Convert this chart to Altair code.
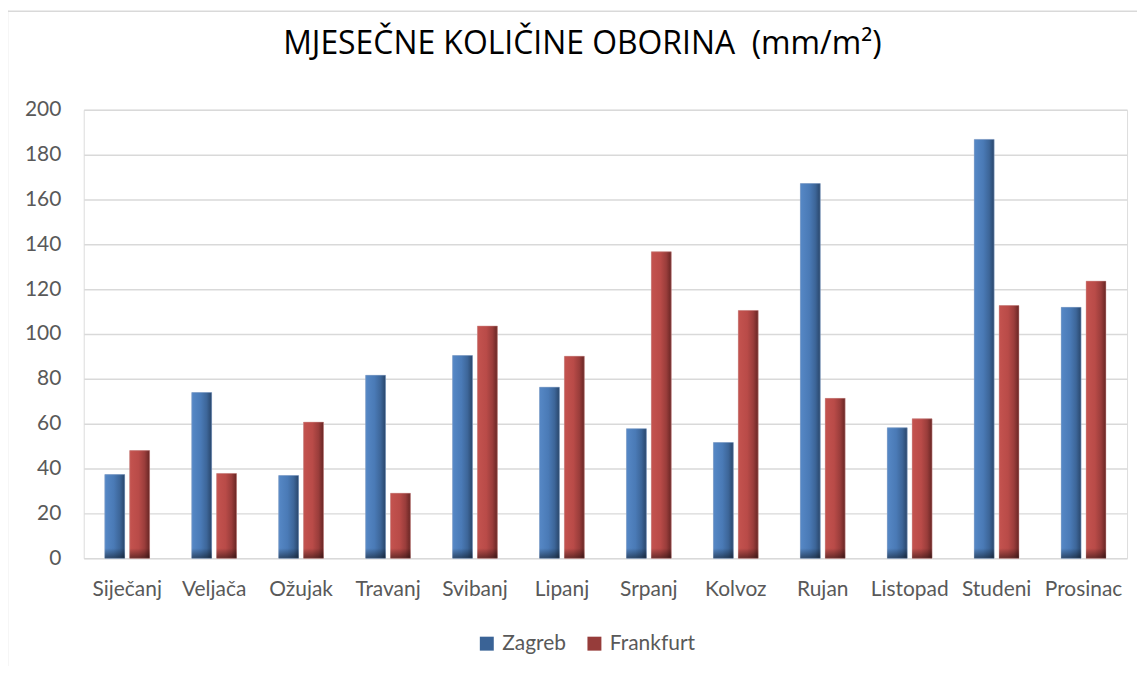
import altair as alt
import pandas as pd

months = ["Siječanj", "Veljača", "Ožujak", "Travanj", "Svibanj", "Lipanj",
          "Srpanj", "Kolvoz", "Rujan", "Listopad", "Studeni", "Prosinac"]
cities = ["Zagreb", "Frankfurt"]
zagreb = [37.3, 73.9, 36.9, 81.6, 90.4, 76.3, 57.8, 51.6, 167.1, 58.2, 186.8, 111.9]
frankfurt = [48.0, 37.8, 60.7, 29.0, 103.6, 90.1, 136.7, 110.5, 71.3, 62.2, 112.7, 123.6]
y_ticks = [0, 20, 40, 60, 80, 100, 120, 140, 160, 180, 200]
title_text = "MJESEČNE KOLIČINE OBORINA\u00a0 (mm/m²)"

rows = []
for m, z, f in zip(months, zagreb, frankfurt):
    rows.append({"month": m, "city": "Zagreb", "value": z})
    rows.append({"month": m, "city": "Frankfurt", "value": f})
df = pd.DataFrame(rows)

FONT = "Lato"
GRAY = "#595959"

blue_grad = alt.Gradient(
    gradient="linear", x1=0, x2=1, y1=0, y2=0,
    stops=[alt.GradientStop(color="#5688c6", offset=0),
           alt.GradientStop(color="#4a7ab6", offset=0.45),
           alt.GradientStop(color="#3d6699", offset=0.75),
           alt.GradientStop(color="#29466b", offset=1)])
red_grad = alt.Gradient(
    gradient="linear", x1=0, x2=1, y1=0, y2=0,
    stops=[alt.GradientStop(color="#c4534f", offset=0),
           alt.GradientStop(color="#b94b48", offset=0.45),
           alt.GradientStop(color="#9a3d3b", offset=0.75),
           alt.GradientStop(color="#682624", offset=1)])
shade_grad = alt.Gradient(
    gradient="linear", x1=0, x2=0, y1=0, y2=1,
    stops=[alt.GradientStop(color="rgba(0,0,0,0)", offset=0),
           alt.GradientStop(color="rgba(0,0,0,0.45)", offset=1)])

x_enc = alt.X("month:N", sort=months,
              scale=alt.Scale(paddingInner=0.485, paddingOuter=0.2425),
              axis=alt.Axis(title=None, labelAngle=0, domain=False, ticks=False,
                            labelPadding=20, labelFontSize=21, labelColor=GRAY,
                            labelFont=FONT, grid=False))
xo_enc = alt.XOffset("city:N", sort=cities,
                     scale=alt.Scale(domain=cities, paddingInner=0.2, paddingOuter=0))
y_axis = alt.Axis(title=None, values=y_ticks, domain=False, ticks=False,
                  labelPadding=23, labelFontSize=21, labelColor=GRAY,
                  labelFont=FONT, grid=True, gridColor="#d9d9d9", gridWidth=1.5)
y_enc = alt.Y("value:Q", scale=alt.Scale(domain=[0, 200], nice=False), axis=y_axis)

base = alt.Chart(df).encode(x=x_enc, xOffset=xo_enc, y=y_enc)

solid = base.mark_bar().encode(
    color=alt.Color("city:N", sort=cities,
                    scale=alt.Scale(domain=cities, range=["#3a6396", "#963c3a"]),
                    legend=alt.Legend(title=None, orient="none", direction="horizontal",
                                      legendX=394, legendY=525, symbolType="square",
                                      symbolSize=196, symbolStrokeWidth=0,
                                      labelFontSize=21, labelColor=GRAY, labelFont=FONT,
                                      columnPadding=18, labelOffset=5))
)
gz = base.transform_filter(alt.datum.city == "Zagreb").mark_bar(
    fill=blue_grad, stroke="#9fb6d6", strokeWidth=0.6, strokeOpacity=0.8)
gf = base.transform_filter(alt.datum.city == "Frankfurt").mark_bar(
    fill=red_grad, stroke="#d9a3a1", strokeWidth=0.6, strokeOpacity=0.8)
shade = base.transform_calculate(sh="min(datum.value, 4.5)").mark_bar(
    fill=shade_grad).encode(y=alt.Y("sh:Q", scale=alt.Scale(domain=[0, 200], nice=False), axis=y_axis))

frame_data = alt.Data(values=[{"k": 1}])
frame_v = alt.Chart(frame_data).mark_rule(color="#d9d9d9", strokeWidth=1.5).encode(
    x=alt.value(-76.5), y=alt.value(-100), y2=alt.value(700))
frame_h = alt.Chart(frame_data).mark_rule(color="#d9d9d9", strokeWidth=1.5).encode(
    x=alt.value(-77), x2=alt.value(1200), y=alt.value(-99))
title = alt.Chart(frame_data).mark_text(
    text=title_text, font="Open Sans", fontSize=32, color="#000000",
    align="center", baseline="alphabetic").encode(
    x=alt.value(500.5), y=alt.value(-56))

chart = alt.layer(frame_v, frame_h, title, solid, gz, gf, shade).properties(
    width=1047, height=450,
    autosize=alt.AutoSizeParams(type="none"),
    padding={"left": 76, "top": 101, "right": 10, "bottom": 107},
).configure_view(stroke=None).configure(background="white")

chart.save("out.html", embed_options={"renderer": "svg", "actions": False})
